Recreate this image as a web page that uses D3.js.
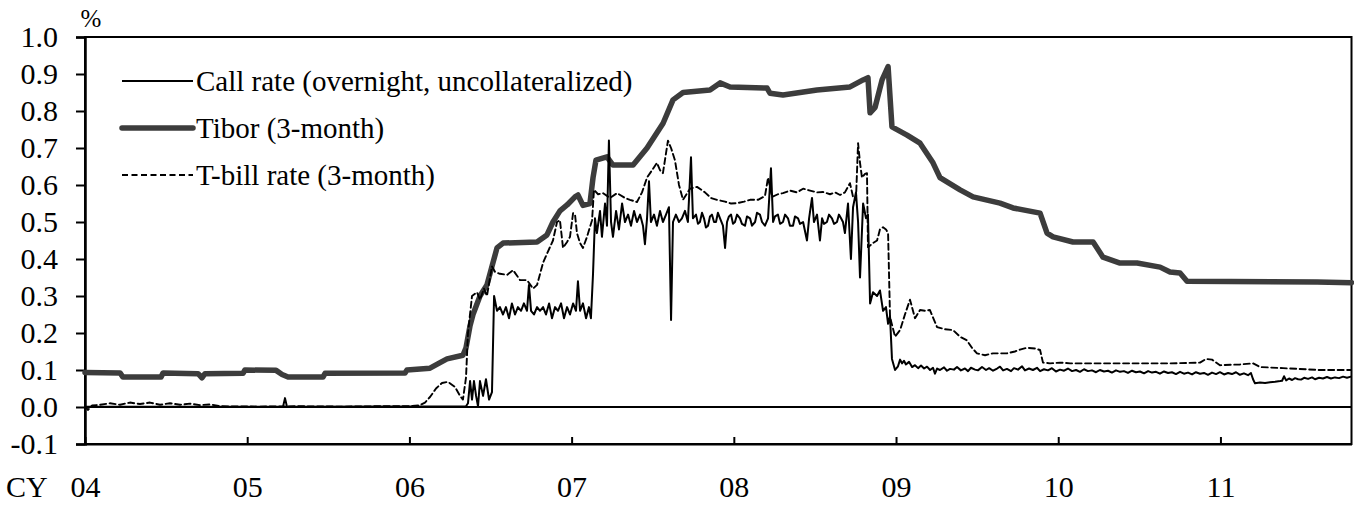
<!DOCTYPE html>
<html><head><meta charset="utf-8">
<script src="https://cdn.jsdelivr.net/npm/d3@7"></script>
<style>
body{margin:0;background:#fff}
svg{display:block}
text{font-family:"Liberation Serif","Times New Roman",serif;fill:#000}
</style>
</head><body>
<svg id="chart" width="1354" height="505"></svg>
<script>
// ---- data (decimal calendar year, percent) ----
const yearTicks = [2004, 2005, 2006, 2007, 2008, 2009, 2010, 2011];
const yearLabels = ["04", "05", "06", "07", "08", "09", "10", "11"];
const yTicks = [-0.1, 0.0, 0.1, 0.2, 0.3, 0.4, 0.5, 0.6, 0.7, 0.8, 0.9, 1.0];
const seriesNames = ["Call rate (overnight, uncollateralized)", "Tibor (3-month)", "T-bill rate (3-month)"];

const tibor = [
[2004.000,0.093],[2004.216,0.092],[2004.234,0.081],[2004.469,0.081],[2004.481,0.092],[2004.697,0.090],
[2004.721,0.079],[2004.740,0.090],[2004.974,0.091],[2004.986,0.100],[2005.178,0.099],[2005.215,0.088],
[2005.252,0.081],[2005.467,0.081],[2005.480,0.091],[2005.973,0.092],[2005.985,0.100],[2006.127,0.105],
[2006.189,0.120],[2006.232,0.130],[2006.330,0.140],[2006.349,0.160],[2006.374,0.220],[2006.392,0.250],
[2006.435,0.300],[2006.478,0.330],[2006.509,0.380],[2006.540,0.430],[2006.577,0.443],[2006.787,0.446],
[2006.848,0.465],[2006.885,0.500],[2006.928,0.530],[2006.972,0.546],[2007.021,0.568],[2007.039,0.573],
[2007.070,0.545],[2007.113,0.550],[2007.132,0.620],[2007.150,0.667],[2007.218,0.676],[2007.255,0.654],
[2007.379,0.654],[2007.465,0.700],[2007.564,0.767],[2007.625,0.830],[2007.687,0.850],[2007.853,0.857],
[2007.915,0.876],[2007.977,0.865],[2008.205,0.862],[2008.223,0.848],[2008.303,0.843],[2008.513,0.857],
[2008.716,0.865],[2008.797,0.884],[2008.827,0.890],[2008.840,0.795],[2008.871,0.810],[2008.914,0.884],
[2008.951,0.920],[2008.975,0.757],[2009.068,0.735],[2009.148,0.713],[2009.228,0.660],[2009.271,0.620],
[2009.395,0.587],[2009.475,0.568],[2009.641,0.551],[2009.721,0.538],[2009.888,0.524],[2009.931,0.470],
[2009.968,0.460],[2010.091,0.446],[2010.215,0.446],[2010.276,0.405],[2010.381,0.389],[2010.486,0.389],
[2010.628,0.378],[2010.689,0.365],[2010.751,0.362],[2010.794,0.340],[2011.596,0.338],[2011.808,0.336]
];

const callRate = [
[2004.000,0.001],[2005.221,0.001],[2005.233,0.024],[2005.245,0.001],[2006.349,0.002],[2006.361,0.010],
[2006.374,0.070],[2006.386,0.020],[2006.398,0.070],[2006.411,0.030],[2006.423,0.002],[2006.435,0.070],
[2006.454,0.030],[2006.472,0.075],[2006.491,0.020],[2006.509,0.040],[2006.522,0.300],[2006.540,0.260],
[2006.558,0.270],[2006.577,0.250],[2006.595,0.270],[2006.614,0.240],[2006.632,0.280],[2006.651,0.250],
[2006.669,0.270],[2006.688,0.260],[2006.706,0.280],[2006.725,0.260],[2006.737,0.330],[2006.750,0.260],
[2006.768,0.250],[2006.787,0.270],[2006.805,0.260],[2006.824,0.270],[2006.842,0.250],[2006.861,0.280],
[2006.879,0.240],[2006.898,0.270],[2006.916,0.260],[2006.935,0.280],[2006.953,0.240],[2006.972,0.270],
[2006.990,0.250],[2007.009,0.280],[2007.027,0.260],[2007.039,0.340],[2007.052,0.260],[2007.070,0.280],
[2007.089,0.240],[2007.107,0.270],[2007.119,0.240],[2007.132,0.360],[2007.144,0.510],[2007.156,0.470],
[2007.175,0.530],[2007.187,0.460],[2007.206,0.550],[2007.218,0.490],[2007.230,0.720],[2007.243,0.500],
[2007.255,0.460],[2007.274,0.530],[2007.292,0.480],[2007.311,0.550],[2007.329,0.500],[2007.348,0.520],
[2007.366,0.490],[2007.385,0.530],[2007.403,0.500],[2007.422,0.520],[2007.440,0.490],[2007.452,0.440],
[2007.465,0.510],[2007.477,0.610],[2007.489,0.500],[2007.508,0.520],[2007.526,0.490],[2007.545,0.530],
[2007.563,0.500],[2007.582,0.520],[2007.600,0.540],[2007.613,0.235],[2007.625,0.500],[2007.643,0.520],
[2007.662,0.500],[2007.680,0.510],[2007.699,0.530],[2007.717,0.500],[2007.736,0.675],[2007.748,0.510],
[2007.767,0.520],[2007.779,0.495],[2007.791,0.500],[2007.804,0.525],[2007.816,0.510],[2007.828,0.485],
[2007.841,0.490],[2007.853,0.515],[2007.865,0.520],[2007.878,0.500],[2007.890,0.500],[2007.902,0.525],
[2007.915,0.510],[2007.933,0.490],[2007.946,0.430],[2007.958,0.500],[2007.970,0.515],[2007.983,0.520],
[2007.995,0.495],[2008.007,0.500],[2008.020,0.520],[2008.038,0.510],[2008.050,0.495],[2008.069,0.490],
[2008.081,0.515],[2008.100,0.510],[2008.112,0.490],[2008.131,0.500],[2008.143,0.525],[2008.161,0.520],
[2008.174,0.500],[2008.192,0.490],[2008.211,0.510],[2008.229,0.645],[2008.242,0.500],[2008.254,0.515],
[2008.272,0.520],[2008.285,0.495],[2008.303,0.500],[2008.316,0.520],[2008.334,0.510],[2008.346,0.490],
[2008.365,0.490],[2008.377,0.515],[2008.396,0.510],[2008.408,0.495],[2008.427,0.500],[2008.451,0.450],
[2008.464,0.510],[2008.482,0.565],[2008.494,0.500],[2008.513,0.520],[2008.531,0.450],[2008.544,0.510],
[2008.556,0.495],[2008.574,0.500],[2008.587,0.520],[2008.605,0.510],[2008.618,0.495],[2008.636,0.500],
[2008.648,0.520],[2008.661,0.510],[2008.673,0.500],[2008.685,0.470],[2008.704,0.550],[2008.722,0.400],
[2008.735,0.540],[2008.753,0.580],[2008.766,0.500],[2008.778,0.350],[2008.797,0.550],[2008.815,0.510],
[2008.827,0.520],[2008.840,0.280],[2008.858,0.310],[2008.883,0.300],[2008.901,0.315],[2008.920,0.260],
[2008.938,0.270],[2008.951,0.225],[2008.963,0.245],[2008.975,0.130],[2008.994,0.100],[2009.012,0.110],
[2009.025,0.128],[2009.037,0.118],[2009.049,0.125],[2009.061,0.115],[2009.080,0.122],[2009.099,0.108],
[2009.117,0.113],[2009.136,0.105],[2009.154,0.112],[2009.173,0.104],[2009.191,0.109],[2009.210,0.100],
[2009.228,0.106],[2009.240,0.090],[2009.253,0.104],[2009.271,0.100],[2009.296,0.107],[2009.314,0.098],
[2009.333,0.103],[2009.357,0.101],[2009.376,0.108],[2009.400,0.099],[2009.425,0.104],[2009.444,0.097],
[2009.462,0.106],[2009.487,0.101],[2009.505,0.099],[2009.530,0.108],[2009.555,0.100],[2009.574,0.105],
[2009.598,0.098],[2009.623,0.104],[2009.641,0.109],[2009.660,0.099],[2009.684,0.103],[2009.709,0.097],
[2009.727,0.105],[2009.752,0.101],[2009.777,0.110],[2009.795,0.099],[2009.820,0.104],[2009.844,0.100],
[2009.869,0.106],[2009.888,0.097],[2009.912,0.102],[2009.937,0.099],[2009.961,0.105],[2009.986,0.096],
[2010.011,0.101],[2010.036,0.098],[2010.060,0.104],[2010.085,0.097],[2010.110,0.100],[2010.134,0.095],
[2010.159,0.102],[2010.183,0.097],[2010.208,0.099],[2010.233,0.094],[2010.257,0.100],[2010.282,0.096],
[2010.307,0.098],[2010.331,0.093],[2010.356,0.099],[2010.381,0.095],[2010.405,0.097],[2010.430,0.092],
[2010.455,0.098],[2010.479,0.094],[2010.504,0.096],[2010.529,0.091],[2010.554,0.097],[2010.578,0.093],
[2010.603,0.095],[2010.627,0.090],[2010.652,0.096],[2010.677,0.092],[2010.701,0.094],[2010.726,0.089],
[2010.751,0.095],[2010.775,0.090],[2010.800,0.093],[2010.825,0.088],[2010.849,0.094],[2010.874,0.090],
[2010.899,0.092],[2010.923,0.087],[2010.948,0.093],[2010.973,0.089],[2010.997,0.094],[2011.022,0.088],
[2011.047,0.092],[2011.071,0.089],[2011.096,0.094],[2011.120,0.087],[2011.145,0.091],[2011.170,0.086],
[2011.188,0.092],[2011.201,0.075],[2011.213,0.064],[2011.244,0.066],[2011.275,0.065],[2011.306,0.067],
[2011.337,0.068],[2011.368,0.070],[2011.380,0.071],[2011.392,0.083],[2011.405,0.072],[2011.423,0.077],
[2011.442,0.073],[2011.460,0.078],[2011.479,0.075],[2011.497,0.074],[2011.516,0.079],[2011.540,0.076],
[2011.565,0.080],[2011.583,0.075],[2011.608,0.079],[2011.632,0.077],[2011.657,0.081],[2011.681,0.077],
[2011.706,0.080],[2011.731,0.078],[2011.756,0.082],[2011.780,0.079],[2011.805,0.082]
];

const tbill = [
[2004.000,0.002],[2004.018,-0.008],[2004.043,0.004],[2004.092,0.006],[2004.154,0.010],[2004.216,0.006],
[2004.277,0.012],[2004.339,0.008],[2004.401,0.012],[2004.462,0.006],[2004.524,0.010],[2004.586,0.006],
[2004.647,0.009],[2004.709,0.005],[2004.771,0.007],[2004.832,0.002],[2005.079,0.001],[2005.326,0.002],
[2005.572,0.001],[2005.819,0.002],[2006.004,0.002],[2006.065,0.005],[2006.096,0.012],[2006.127,0.027],
[2006.164,0.050],[2006.201,0.065],[2006.238,0.068],[2006.281,0.054],[2006.312,0.030],[2006.330,0.020],
[2006.349,0.080],[2006.361,0.200],[2006.386,0.300],[2006.417,0.310],[2006.435,0.290],[2006.460,0.320],
[2006.478,0.300],[2006.509,0.380],[2006.528,0.365],[2006.558,0.360],[2006.602,0.357],[2006.639,0.370],
[2006.682,0.343],[2006.725,0.343],[2006.762,0.320],[2006.787,0.330],[2006.824,0.390],[2006.854,0.420],
[2006.885,0.450],[2006.910,0.500],[2006.928,0.505],[2006.947,0.430],[2006.972,0.446],[2006.990,0.460],
[2007.009,0.524],[2007.021,0.520],[2007.033,0.470],[2007.052,0.443],[2007.070,0.430],[2007.095,0.460],
[2007.126,0.505],[2007.138,0.587],[2007.163,0.575],[2007.193,0.578],[2007.237,0.565],[2007.280,0.578],
[2007.329,0.565],[2007.360,0.560],[2007.403,0.554],[2007.434,0.580],[2007.465,0.620],[2007.496,0.640],
[2007.526,0.660],[2007.545,0.640],[2007.563,0.632],[2007.594,0.720],[2007.613,0.700],[2007.637,0.667],
[2007.662,0.600],[2007.687,0.560],[2007.730,0.590],[2007.773,0.595],[2007.822,0.580],[2007.859,0.565],
[2007.896,0.560],[2007.946,0.555],[2007.983,0.550],[2008.020,0.551],[2008.063,0.555],[2008.100,0.560],
[2008.149,0.560],[2008.192,0.570],[2008.211,0.620],[2008.235,0.568],[2008.272,0.575],[2008.303,0.578],
[2008.346,0.585],[2008.389,0.580],[2008.427,0.590],[2008.470,0.585],[2008.513,0.580],[2008.550,0.581],
[2008.593,0.575],[2008.624,0.580],[2008.655,0.573],[2008.685,0.580],[2008.716,0.605],[2008.735,0.568],
[2008.753,0.560],[2008.766,0.713],[2008.778,0.660],[2008.790,0.620],[2008.809,0.630],[2008.821,0.632],
[2008.827,0.432],[2008.858,0.443],[2008.883,0.450],[2008.901,0.480],[2008.920,0.486],[2008.938,0.480],
[2008.951,0.470],[2008.963,0.243],[2008.994,0.190],[2009.025,0.208],[2009.055,0.250],[2009.086,0.290],
[2009.117,0.240],[2009.148,0.262],[2009.179,0.260],[2009.209,0.262],[2009.253,0.216],[2009.302,0.210],
[2009.351,0.208],[2009.394,0.190],[2009.437,0.180],[2009.468,0.160],[2009.499,0.145],[2009.549,0.140],
[2009.598,0.145],[2009.641,0.145],[2009.684,0.145],[2009.733,0.150],[2009.764,0.155],[2009.807,0.160],
[2009.857,0.158],[2009.888,0.154],[2009.906,0.120],[2009.949,0.118],[2010.011,0.120],[2010.073,0.118],
[2010.196,0.118],[2010.338,0.118],[2010.504,0.118],[2010.689,0.118],[2010.874,0.120],[2010.911,0.130],
[2010.948,0.128],[2010.997,0.113],[2011.120,0.115],[2011.201,0.118],[2011.244,0.108],[2011.386,0.105],
[2011.614,0.100],[2011.805,0.100]
];

// ---- layout ----
(function () {
const svg = d3.select("#chart");
const pLeft = 85, pRight = 1351.5, pTop = 37, pBottom = 444;
const font = '"Liberation Serif","Times New Roman",serif';
const tickFont = 30, legendFont = 29;

const x = d3.scaleLinear().domain([2004, 2011.808]).range([pLeft, pRight]);
const y = d3.scaleLinear().domain([-0.1, 1.0]).range([pBottom, pTop]);

// frame
svg.append("rect").attr("x", pLeft).attr("y", pTop)
  .attr("width", pRight - pLeft).attr("height", pBottom - pTop)
  .attr("fill", "none").attr("stroke", "#000").attr("stroke-width", 2);

// y axis
const yAxis = svg.append("g").attr("transform", `translate(${pLeft},0)`)
  .call(d3.axisLeft(y).tickValues(yTicks).tickFormat(d => d.toFixed(1))
    .tickSize(9).tickPadding(18));
yAxis.select(".domain").attr("stroke-width", 2.5);
yAxis.selectAll(".tick line").attr("stroke-width", 2);
yAxis.selectAll("text").attr("font-size", tickFont).attr("font-family", font).attr("fill", "#000");

// x axis
const xAxis = svg.append("g").attr("transform", `translate(0,${pBottom})`)
  .call(d3.axisBottom(x).tickValues(yearTicks)
    .tickFormat((d, i) => yearLabels[i]).tickSizeInner(-7).tickSizeOuter(0).tickPadding(32));
xAxis.select(".domain").attr("stroke-width", 2);
xAxis.selectAll(".tick line").attr("stroke-width", 2);
xAxis.selectAll("text").attr("font-size", tickFont).attr("font-family", font).attr("fill", "#000");

svg.append("text").attr("x", 6).attr("y", 497).attr("font-size", tickFont).text("CY");
svg.append("text").attr("x", 91).attr("y", 27).attr("text-anchor", "middle").attr("font-size", 25).text("%");

// zero line
svg.append("line").attr("x1", pLeft).attr("x2", pRight).attr("y1", y(0)).attr("y2", y(0))
  .attr("stroke", "#000").attr("stroke-width", 2);

const line = d3.line().x(d => x(d[0])).y(d => y(d[1]));

const styles = [
  {data: callRate, color: "#000", width: 2, dash: null},
  {data: tibor, color: "#3c3c3c", width: 5.5, dash: null},
  {data: tbill, color: "#000", width: 1.9, dash: "6,3.5"}
];

// draw order: Tibor, T-bill, Call
[1, 2, 0].forEach(i => {
  const s = styles[i];
  svg.append("path").datum(s.data).attr("d", line)
    .attr("fill", "none").attr("stroke", s.color).attr("stroke-width", s.width)
    .attr("stroke-linejoin", "round").attr("stroke-linecap", "round")
    .attr("stroke-dasharray", s.dash);
});

// legend
const legY = [81, 128, 175];
seriesNames.forEach((name, i) => {
  const s = styles[i];
  svg.append("line").attr("x1", 122).attr("x2", 193).attr("y1", legY[i]).attr("y2", legY[i])
    .attr("stroke", s.color).attr("stroke-width", s.width)
    .attr("stroke-linecap", i === 1 ? "round" : "butt")
    .attr("stroke-dasharray", s.dash);
  svg.append("text").attr("x", 196).attr("y", legY[i]).attr("dy", "0.33em")
    .attr("font-size", legendFont).text(name);
});
})();
</script>
</body></html>
